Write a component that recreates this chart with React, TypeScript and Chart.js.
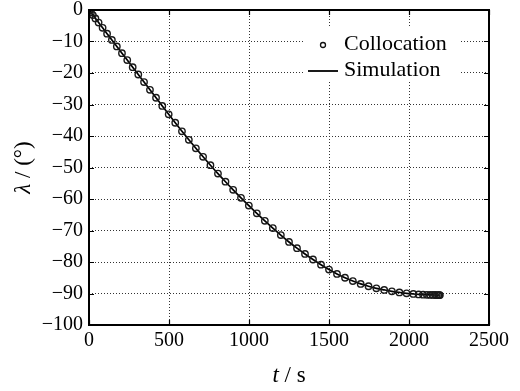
import React, { useEffect, useRef } from "react";
import { Chart, registerables } from "chart.js";

Chart.register(...registerables);

// ---- data ----
const timeSeconds = [
  0, 4, 12, 24, 40, 60, 85, 113, 143, 174,
  206, 239, 273, 308, 344, 381, 419, 458, 498, 539,
  581, 624, 668, 713, 759, 806, 853, 901, 950, 999,
  1049, 1099, 1149, 1199, 1250, 1300, 1350, 1400, 1450, 1500,
  1550, 1600, 1649, 1698, 1747, 1796, 1845, 1893, 1940, 1985,
  2027, 2060, 2088, 2112, 2132, 2149, 2163, 2174, 2183, 2189,
  2193,
];
const lambdaDegrees = [
  0, -0.27, -0.8, -1.6, -2.66, -3.99, -5.65, -7.51, -9.51, -11.57,
  -13.7, -15.89, -18.15, -20.48, -22.88, -25.34, -27.86, -30.46, -33.12, -35.8,
  -38.5, -41.2, -43.9, -46.6, -49.27, -51.93, -54.51, -57.08, -59.63, -62.1,
  -64.55, -66.92, -69.22, -71.45, -73.64, -75.6, -77.45, -79.2, -80.85, -82.4,
  -83.8, -85.0, -86.05, -86.95, -87.7, -88.35, -88.85, -89.3, -89.65, -89.95,
  -90.15, -90.28, -90.36, -90.41, -90.44, -90.46, -90.48, -90.49, -90.5, -90.5,
  -90.5,
];
const seriesLabels = ["Collocation", "Simulation"];
const xTickValues = [0, 500, 1000, 1500, 2000, 2500];
const yTickValues = [0, -10, -20, -30, -40, -50, -60, -70, -80, -90, -100];
const xTitleParts = ["t", " / s"]; // first part italic
const yTitleParts = ["\u03bb", " / (\u00b0)"]; // first part italic

const SERIF = '"Liberation Serif", "Times New Roman", serif';

const fmtTick = (v: number) => (v < 0 ? "\u2212" + Math.abs(v) : String(v));

function drawParts(ctx: CanvasRenderingContext2D, parts: string[], size: number) {
  const fonts = parts.map((_, i) => `${i === 0 ? "italic " : ""}${size}px ${SERIF}`);
  const widths = parts.map((p, i) => {
    ctx.font = fonts[i];
    return ctx.measureText(p).width;
  });
  const total = widths.reduce((a, b) => a + b, 0);
  let x = -total / 2;
  parts.forEach((p, i) => {
    ctx.font = fonts[i];
    ctx.fillText(p, x, 0);
    x += widths[i];
  });
}

const decorPlugin = {
  id: "decor",
  afterDatasetsDraw(chart: any) {
    const { ctx, chartArea } = chart;
    const { left, right, top, bottom } = chartArea;
    const xs = chart.scales.x;
    const ys = chart.scales.y;
    ctx.save();
    // inward ticks
    ctx.strokeStyle = "#000";
    ctx.lineWidth = 1.2;
    ctx.beginPath();
    xTickValues.forEach((v) => {
      const px = Math.round(xs.getPixelForValue(v)) + 0.5;
      ctx.moveTo(px, bottom);
      ctx.lineTo(px, bottom - 5);
      ctx.moveTo(px, top);
      ctx.lineTo(px, top + 5);
    });
    yTickValues.forEach((v) => {
      const py = Math.round(ys.getPixelForValue(v)) + 0.5;
      ctx.moveTo(left, py);
      ctx.lineTo(left + 5, py);
      ctx.moveTo(right, py);
      ctx.lineTo(right - 5, py);
    });
    ctx.stroke();
    // frame
    ctx.lineWidth = 2;
    ctx.strokeRect(left, top, right - left, bottom - top);
    ctx.restore();
  },
  afterDraw(chart: any) {
    const { ctx, chartArea } = chart;
    ctx.save();
    // legend
    ctx.fillStyle = "#fff";
    ctx.fillRect(303, 28, 157, 52);
    ctx.strokeStyle = "#111";
    ctx.lineWidth = 1.3;
    ctx.beginPath();
    ctx.arc(323, 45, 2.5, 0, Math.PI * 2);
    ctx.stroke();
    ctx.strokeStyle = "#000";
    ctx.lineWidth = 1.8;
    ctx.beginPath();
    ctx.moveTo(308, 71);
    ctx.lineTo(338, 71);
    ctx.stroke();
    ctx.fillStyle = "#000";
    ctx.font = `22px ${SERIF}`;
    ctx.textAlign = "left";
    ctx.textBaseline = "alphabetic";
    ctx.fillText(chart.data.datasets[0].label, 344, 49.5);
    ctx.fillText(chart.data.datasets[1].label, 344, 76);

    // axis titles
    const cx = (chartArea.left + chartArea.right) / 2;
    ctx.save();
    ctx.translate(cx, 382);
    drawParts(ctx, xTitleParts, 23);
    ctx.restore();
    const cy = (chartArea.top + chartArea.bottom) / 2;
    ctx.save();
    ctx.translate(30, cy);
    ctx.rotate(-Math.PI / 2);
    drawParts(ctx, yTitleParts, 23);
    ctx.restore();
    ctx.restore();
  },
};

export default function App() {
  const ref = useRef<HTMLCanvasElement | null>(null);
  useEffect(() => {
    if (!ref.current) return;
    const points = timeSeconds.map((t, i) => ({ x: t, y: lambdaDegrees[i] }));
    const tickFont = { family: SERIF, size: 20 };
    const chart = new Chart(ref.current, {
      type: "scatter",
      data: {
        datasets: [
          {
            label: seriesLabels[0],
            data: points,
            showLine: false,
            pointStyle: "circle",
            pointRadius: 3.2,
            pointBorderWidth: 1.4,
            borderColor: "#1a1a1a",
            backgroundColor: "rgba(255,255,255,0)",
            order: 0,
          },
          {
            label: seriesLabels[1],
            data: points,
            showLine: true,
            borderColor: "#000",
            borderWidth: 1.7,
            pointRadius: 0,
            cubicInterpolationMode: "monotone",
            order: 1,
          },
        ],
      } as any,
      options: {
        responsive: false,
        animation: false,
        devicePixelRatio: 1,
        layout: { padding: { top: 10, right: 31, bottom: 0, left: 0 } },
        plugins: { legend: { display: false }, tooltip: { enabled: false } },
        events: [],
        scales: {
          x: {
            type: "linear",
            min: 0,
            max: 2500,
            afterBuildTicks: (s: any) => {
              s.ticks = xTickValues.map((v) => ({ value: v }));
            },
            afterFit: (s: any) => {
              s.height = 66;
              s.paddingLeft = 0;
              s.paddingRight = 0;
              s.paddingTop = 0;
              s.paddingBottom = 0;
            },
            grid: { color: "#333", lineWidth: 1, drawTicks: false },
            border: { display: false, dash: [1, 2] },
            ticks: {
              padding: 4,
              color: "#000",
              font: tickFont,
              maxRotation: 0,
              autoSkip: false,
              callback: (v: any) => fmtTick(Number(v)),
            },
          },
          y: {
            type: "linear",
            min: -100,
            max: 0,
            afterBuildTicks: (s: any) => {
              s.ticks = yTickValues.map((v) => ({ value: v }));
            },
            afterFit: (s: any) => {
              s.width = 89;
              s.paddingLeft = 0;
              s.paddingRight = 0;
              s.paddingTop = 0;
              s.paddingBottom = 0;
            },
            grid: { color: "#333", lineWidth: 1, drawTicks: false },
            border: { display: false, dash: [1, 2] },
            ticks: {
              padding: 6,
              color: "#000",
              font: tickFont,
              autoSkip: false,
              callback: (v: any) => fmtTick(Number(v)),
            },
          },
        },
      } as any,
      plugins: [decorPlugin],
    });
    return () => chart.destroy();
  }, []);
  return (
    <div style={{ position: "absolute", left: 0, top: 0, width: 520, height: 391, background: "#fff" }}>
      <canvas ref={ref} width={520} height={391} style={{ display: "block" }} />
    </div>
  );
}
